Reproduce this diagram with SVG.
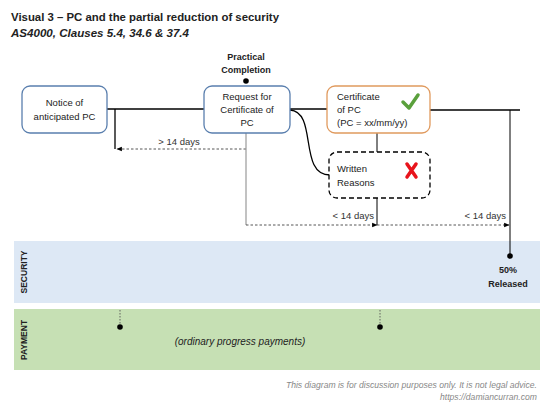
<svg xmlns="http://www.w3.org/2000/svg" width="544" height="412" viewBox="0 0 544 412">
<defs>
<style>
text{font-family:"Liberation Sans",Arial,sans-serif;fill:#222}
.node{font-size:9.5px}
.lbl{font-size:9.5px;fill:#333}
.b{font-weight:bold}
.conn{stroke:#000;stroke-width:1.3;fill:none}
.dash{stroke:#444;stroke-width:0.9;stroke-dasharray:2.5 2;fill:none}
.foot{font-size:8.6px;font-style:italic;fill:#888}
</style>
<marker id="ah" viewBox="0 0 10 10" refX="9" refY="5" markerWidth="6" markerHeight="6" orient="auto-start-reverse">
<path d="M0,1 L10,5 L0,9 z" fill="#000"/>
</marker>
</defs>
<rect width="544" height="412" fill="#fff"/>
<text x="11" y="21" class="b" font-size="11" textLength="268" lengthAdjust="spacingAndGlyphs">Visual 3 – PC and the partial reduction of security</text>
<text x="11" y="37" class="b" font-size="11" font-style="italic" textLength="178" lengthAdjust="spacingAndGlyphs">AS4000, Clauses 5.4, 34.6 &amp; 37.4</text>

<g id="bands">
<rect x="14" y="241" width="526" height="62" fill="#dde8f5"/>
<rect x="14" y="309" width="526" height="61" fill="#c6e0b4"/>
<text transform="translate(27,272) rotate(-90)" text-anchor="middle" class="b" font-size="8.5">SECURITY</text>
<text transform="translate(27,340) rotate(-90)" text-anchor="middle" class="b" font-size="8.5">PAYMENT</text>
<line x1="120" y1="310" x2="120" y2="326" stroke="#555" stroke-width="0.9" stroke-dasharray="1.5 1.5"/>
<line x1="380" y1="310" x2="380" y2="326" stroke="#555" stroke-width="0.9" stroke-dasharray="1.5 1.5"/>
<circle cx="120" cy="327" r="2.8" fill="#000"/>
<circle cx="380" cy="327" r="2.8" fill="#000"/>
<text x="240" y="345" text-anchor="middle" font-size="10" font-style="italic">(ordinary progress payments)</text>
<text x="508" y="273" text-anchor="middle" class="b" font-size="9">50%</text>
<text x="508" y="287" text-anchor="middle" class="b" font-size="9">Released</text>
</g>

<g id="connectors">
<line x1="107" y1="109" x2="204" y2="109" class="conn"/>
<polyline points="115,109 115,149" class="conn" stroke-width="1"/>
<line x1="246" y1="149" x2="117" y2="149" class="dash" marker-end="url(#ah)"/>
<line x1="246" y1="133" x2="246" y2="225" stroke="#999" stroke-width="1.2"/>
<line x1="290" y1="109" x2="327" y2="109" class="conn"/>
<path d="M290,110 C318,112 298,175 330,175" class="conn"/>
<line x1="430" y1="110" x2="520" y2="110" class="conn"/>
<line x1="377" y1="133" x2="377" y2="152" stroke="#000" stroke-width="1"/>
<line x1="377" y1="198" x2="377" y2="225" stroke="#000" stroke-width="1"/>
<line x1="246" y1="225" x2="377" y2="225" class="dash" marker-end="url(#ah)"/>
<line x1="377" y1="225" x2="509" y2="225" class="dash" marker-end="url(#ah)"/>
<line x1="510" y1="110" x2="510" y2="255" stroke="#000" stroke-width="1"/>
<circle cx="510" cy="256" r="2.8" fill="#000"/>
<circle cx="246" cy="81" r="2.8" fill="#000"/>
<text x="179" y="145" text-anchor="middle" class="lbl">&gt; 14 days</text>
<text x="374" y="219" text-anchor="end" class="lbl">&lt; 14 days</text>
<text x="506" y="219" text-anchor="end" class="lbl">&lt; 14 days</text>
</g>

<g id="pc-label">
<text x="246" y="60" text-anchor="middle" class="b" font-size="9">Practical</text>
<text x="246" y="73" text-anchor="middle" class="b" font-size="9">Completion</text>
</g>

<g id="notice">
<rect x="22" y="86" width="85" height="47" rx="8" fill="#fff" stroke="#5a7fae" stroke-width="1.3"/>
<text x="64.5" y="106" text-anchor="middle" class="node">Notice of</text>
<text x="64.5" y="120" text-anchor="middle" class="node">anticipated PC</text>
</g>

<g id="request">
<rect x="204" y="86" width="86" height="47" rx="8" fill="#fff" stroke="#5a7fae" stroke-width="1.3"/>
<text x="247" y="100" text-anchor="middle" class="node">Request for</text>
<text x="247" y="113" text-anchor="middle" class="node">Certificate of</text>
<text x="247" y="126" text-anchor="middle" class="node">PC</text>
</g>

<g id="certificate">
<rect x="327" y="86" width="103" height="47" rx="8" fill="#fff" stroke="#e09a5e" stroke-width="1.3"/>
<text x="337" y="100" class="node">Certificate</text>
<text x="337" y="113" class="node">of PC</text>
<text x="337" y="126" class="node">(PC = xx/mm/yy)</text>
<path d="M403,102 L409,108 L418,95" fill="none" stroke="#5aa03c" stroke-width="3.5" stroke-linecap="round" stroke-linejoin="round"/>
</g>

<g id="reasons">
<rect x="329" y="152" width="101" height="46" rx="8" fill="#fff" stroke="#000" stroke-width="1.3" stroke-dasharray="5 3"/>
<text x="337" y="172" class="node">Written</text>
<text x="337" y="186" class="node">Reasons</text>
<path d="M407,164 L416,177 M416,164 L407,177" stroke="#e8141c" stroke-width="3.5" stroke-linecap="round"/>
</g>

<g id="footer">
<text x="537" y="388" text-anchor="end" class="foot">This diagram is for discussion purposes only. It is not legal advice.</text>
<text x="537" y="400" text-anchor="end" class="foot">https://damiancurran.com</text>
</g>
</svg>
